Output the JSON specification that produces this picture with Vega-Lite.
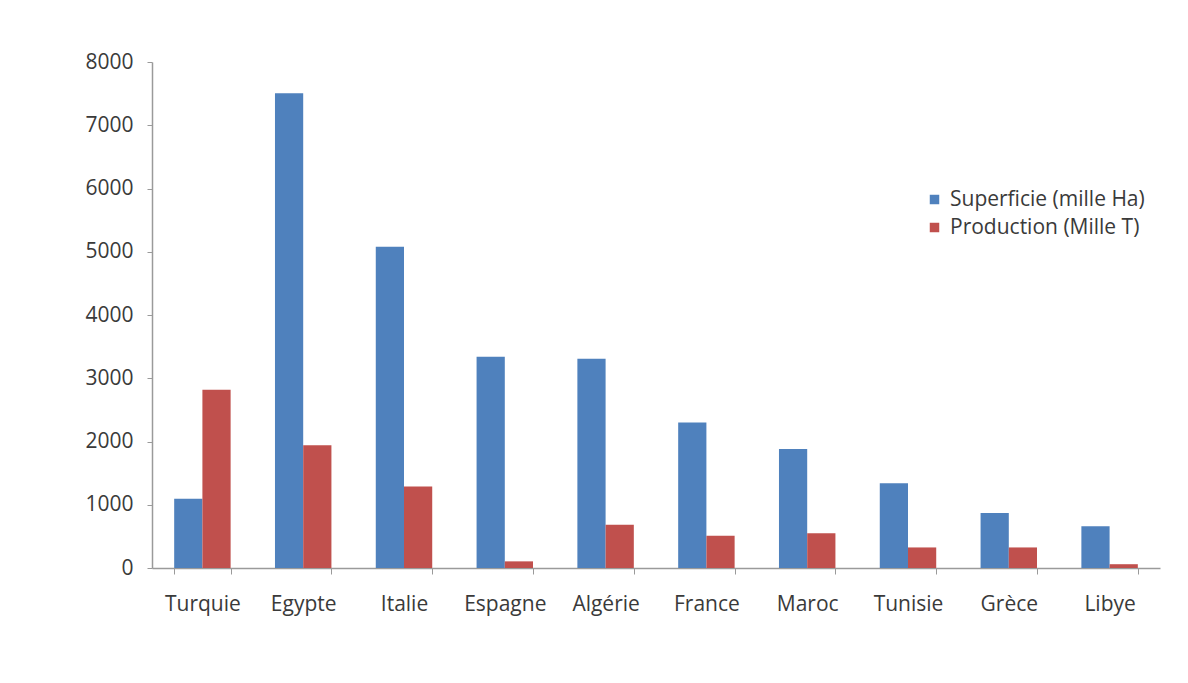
{
  "$schema": "https://vega.github.io/schema/vega-lite/v6.json",
  "autosize": "none",
  "width": 1008,
  "height": 506,
  "padding": {"left": 152, "top": 62, "right": 28, "bottom": 115},
  "background": "white",
  "config": {
    "view": {"stroke": null},
    "font": "Open Sans",
    "axis": {"labelFont": "Open Sans", "labelColor": "#3a3a3a", "labelFontSize": 21, "grid": false, "domainColor": "#9a9a9a", "tickColor": "#9a9a9a", "title": null}
  },
  "data": {
    "values": [
      {"pays": "Turquie", "serie": "Superficie (mille Ha)", "valeur": 1095},
      {"pays": "Turquie", "serie": "Production (Mille T)", "valeur": 2820},
      {"pays": "Egypte", "serie": "Superficie (mille Ha)", "valeur": 7505},
      {"pays": "Egypte", "serie": "Production (Mille T)", "valeur": 1940},
      {"pays": "Italie", "serie": "Superficie (mille Ha)", "valeur": 5080},
      {"pays": "Italie", "serie": "Production (Mille T)", "valeur": 1290},
      {"pays": "Espagne", "serie": "Superficie (mille Ha)", "valeur": 3340},
      {"pays": "Espagne", "serie": "Production (Mille T)", "valeur": 105},
      {"pays": "Algérie", "serie": "Superficie (mille Ha)", "valeur": 3310},
      {"pays": "Algérie", "serie": "Production (Mille T)", "valeur": 685},
      {"pays": "France", "serie": "Superficie (mille Ha)", "valeur": 2300},
      {"pays": "France", "serie": "Production (Mille T)", "valeur": 510},
      {"pays": "Maroc", "serie": "Superficie (mille Ha)", "valeur": 1880},
      {"pays": "Maroc", "serie": "Production (Mille T)", "valeur": 550},
      {"pays": "Tunisie", "serie": "Superficie (mille Ha)", "valeur": 1340},
      {"pays": "Tunisie", "serie": "Production (Mille T)", "valeur": 325},
      {"pays": "Grèce", "serie": "Superficie (mille Ha)", "valeur": 868},
      {"pays": "Grèce", "serie": "Production (Mille T)", "valeur": 325},
      {"pays": "Libye", "serie": "Superficie (mille Ha)", "valeur": 660},
      {"pays": "Libye", "serie": "Production (Mille T)", "valeur": 60}
    ]
  },
  "mark": {"type": "bar"},
  "encoding": {
    "x": {
      "field": "pays", "type": "nominal",
      "sort": ["Turquie", "Egypte", "Italie", "Espagne", "Algérie", "France", "Maroc", "Tunisie", "Grèce", "Libye"],
      "scale": {"paddingInner": 0.44, "paddingOuter": 0.22},
      "axis": {"labelAngle": 0, "tickBand": "extent", "tickSize": 6, "labelPadding": 19, "domainWidth": 1.5}
    },
    "xOffset": {
      "field": "serie", "type": "nominal",
      "sort": ["Superficie (mille Ha)", "Production (Mille T)"],
      "scale": {"paddingInner": 0, "paddingOuter": 0}
    },
    "y": {
      "field": "valeur", "type": "quantitative",
      "scale": {"domain": [0, 8000], "nice": false},
      "axis": {"values": [0, 1000, 2000, 3000, 4000, 5000, 6000, 7000, 8000], "tickSize": 5, "labelPadding": 14, "domainWidth": 1.5, "format": "d"}
    },
    "color": {
      "field": "serie", "type": "nominal",
      "sort": ["Superficie (mille Ha)", "Production (Mille T)"],
      "scale": {"domain": ["Superficie (mille Ha)", "Production (Mille T)"], "range": ["#4F81BD", "#C0504D"]},
      "legend": {
        "title": null, "orient": "none", "legendX": 772, "legendY": 127,
        "symbolType": "square", "symbolSize": 90, "labelFontSize": 21, "labelFont": "Open Sans", "labelColor": "#3a3a3a",
        "labelLimit": 0, "rowPadding": 6, "labelOffset": 5
      }
    }
  }
}
